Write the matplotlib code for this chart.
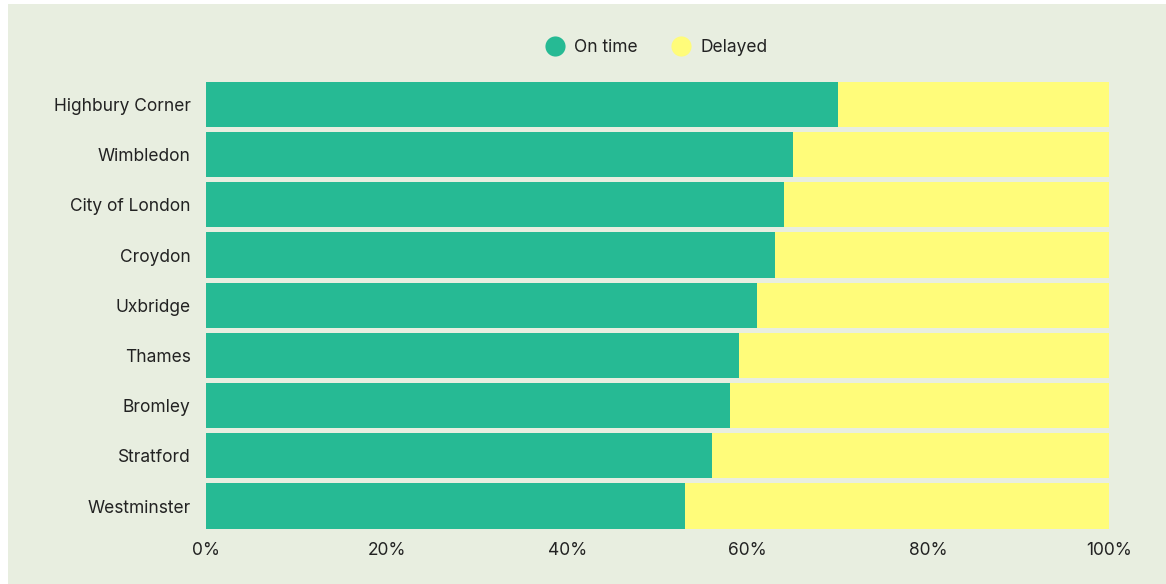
import matplotlib
matplotlib.use("Agg")
import matplotlib.pyplot as plt
from matplotlib.lines import Line2D
from matplotlib.patches import Rectangle

categories = ["Highbury Corner", "Wimbledon", "City of London", "Croydon", "Uxbridge",
              "Thames", "Bromley", "Stratford", "Westminster"]
on_time = [70, 65, 64, 63, 61, 59, 58, 56, 53]
delayed = [30, 35, 36, 37, 39, 41, 42, 44, 47]
xticks = [0, 20, 40, 60, 80, 100]
xtick_labels = ["0%", "20%", "40%", "60%", "80%", "100%"]

GREEN = "#26BA94"
YELLOW = "#FFFC7A"
BG = "#E8EEE0"
TEXT = "#222222"

plt.rcParams['font.family'] = ['Inter', 'DejaVu Sans']

W, H = 1166, 584
fig = plt.figure(figsize=(W / 100, H / 100), dpi=100, facecolor="white")
fig.patches.append(Rectangle((8 / W, 0), 1 - 8 / W, 1 - 4 / H, transform=fig.transFigure,
                             facecolor=BG, edgecolor="none", zorder=-10))

left = 206 / W
width = 903 / W
top_px, bot_px = 79.4, 531.1
ax = fig.add_axes([left, 1 - bot_px / H, width, (bot_px - top_px) / H])
ax.set_facecolor("none")

y = list(range(len(categories)))
ax.barh(y, on_time, height=0.9, color=GREEN, label="On time")
ax.barh(y, delayed, left=on_time, height=0.9, color=YELLOW, label="Delayed")

ax.set_ylim(len(categories) - 0.5, -0.5)
ax.set_xlim(0, 100)
ax.set_yticks(y)
ax.set_yticklabels(categories, fontsize=12.5, color=TEXT)
ax.set_xticks(xticks)
ax.set_xticklabels(xtick_labels, fontsize=12.5, color=TEXT)
ax.tick_params(axis="y", length=0, pad=11)
ax.tick_params(axis="x", length=0, pad=8)
for s in ax.spines.values():
    s.set_visible(False)

handles = [Line2D([0], [0], marker="o", color="none", markerfacecolor=GREEN, markeredgecolor="none",
                  markersize=14.5, label="On time"),
           Line2D([0], [0], marker="o", color="none", markerfacecolor=YELLOW, markeredgecolor="none",
                  markersize=14.5, label="Delayed")]
leg = fig.legend(handles=handles, loc="center", bbox_to_anchor=(657 / W, 1 - 47.5 / H), ncol=2,
                 frameon=False, fontsize=12.5, handletextpad=0.6, columnspacing=2.0,
                 handlelength=1.0)
for t in leg.get_texts():
    t.set_color(TEXT)

fig.savefig("out.png", dpi=100, facecolor="white")
